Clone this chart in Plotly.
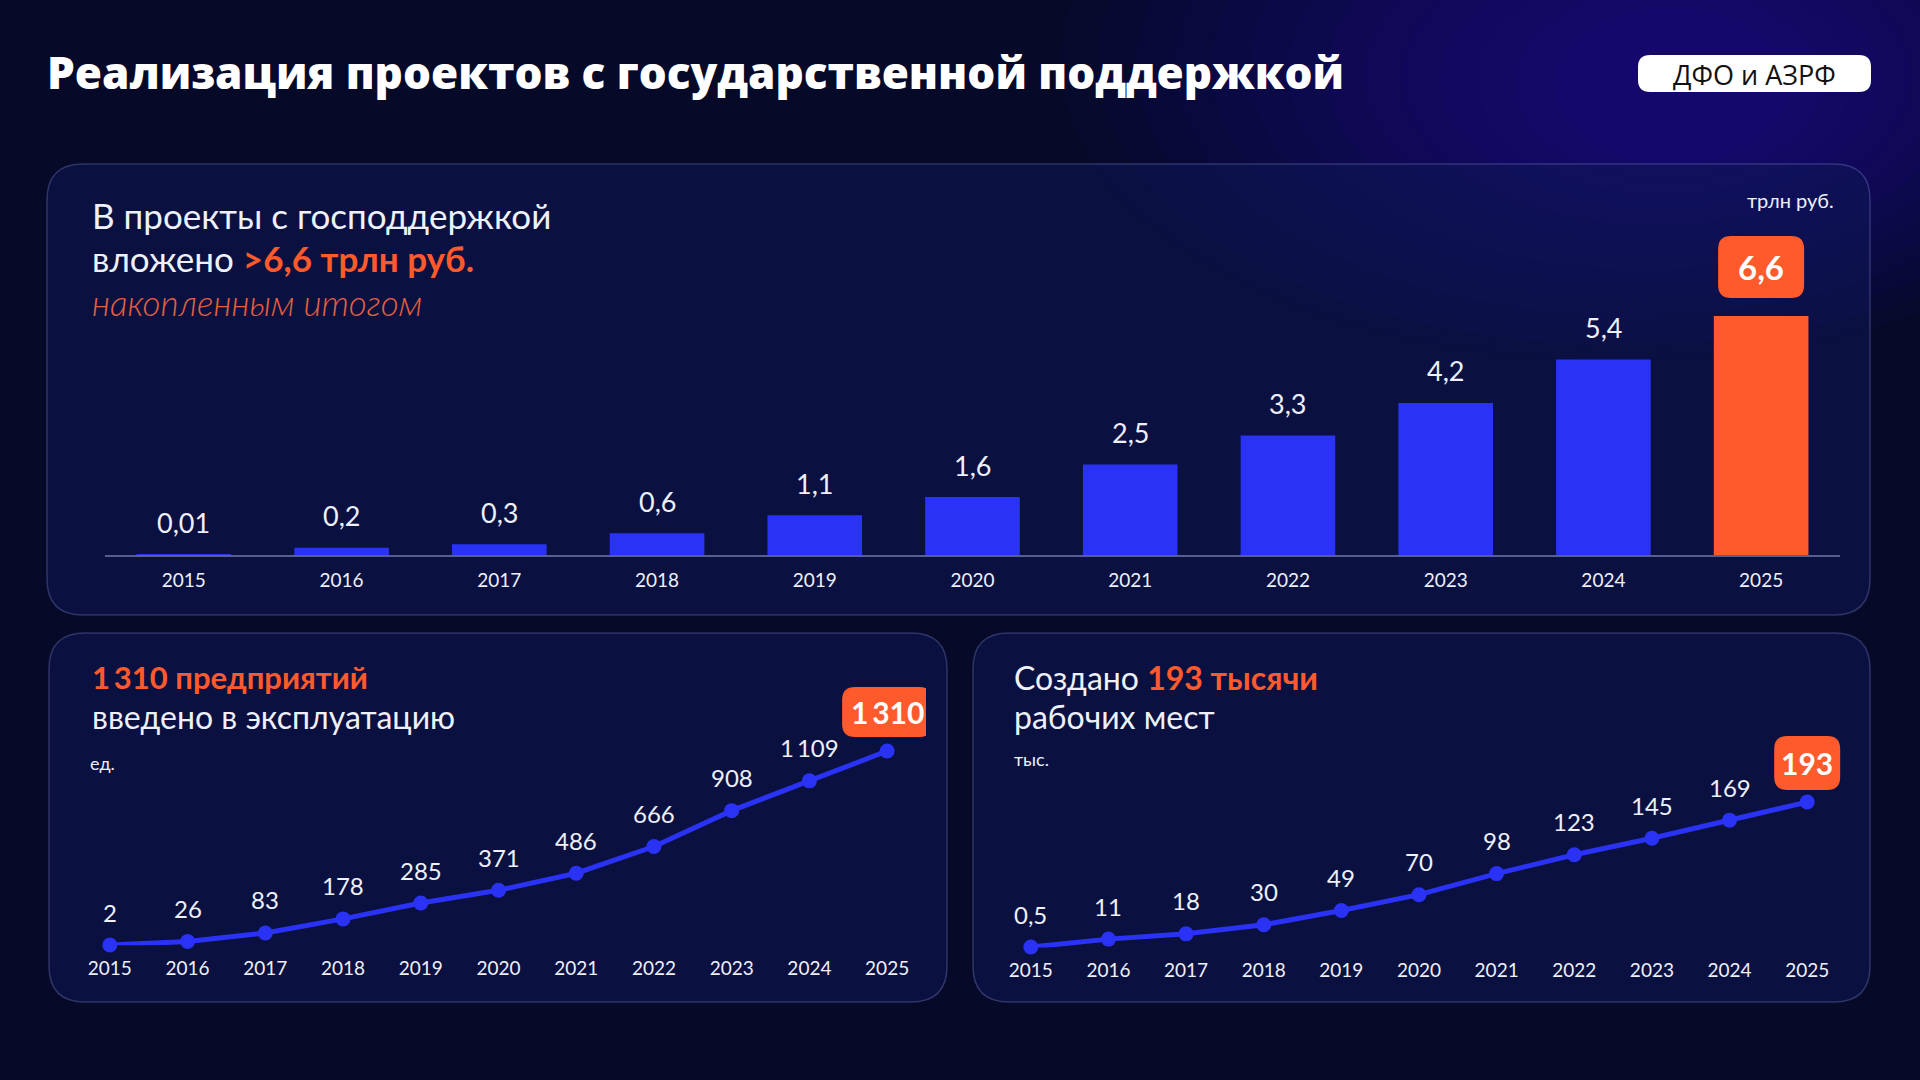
import plotly.graph_objects as go

W, H = 1920, 1080

# --- data ---------------------------------------------------------------
years = list(range(2015, 2026))
invest = [0.01, 0.2, 0.3, 0.6, 1.1, 1.6, 2.5, 3.3, 4.2, 5.4, 6.6]      # трлн руб., накопленным итогом
plants = [2, 26, 83, 178, 285, 371, 486, 666, 908, 1109, 1310]        # ед.
jobs = [0.5, 11, 18, 30, 49, 70, 98, 123, 145, 169, 193]              # тыс.

BG = "#060927"
PANEL = "rgba(14,22,86,0.55)"
EDGE = "rgba(120,130,200,0.35)"
BLUE = "#2a33f5"
ORANGE = "#ff5a2c"
TXT = "#eef0fa"
FONT = "Lato"


def fmt(v):
    # 0.01 -> "0,01", 1310 -> "1 310"
    if float(v).is_integer():
        return f"{int(v):,}".replace(",", "\u2009")
    return f"{v}".replace(".", ",")


def px_x(v):
    return v / W


def px_y(v):
    return 1 - v / H


def rrect(x0, y0, x1, y1, r):
    """rounded rectangle in paper coords from pixel box (y down)"""
    X, Y = px_x, px_y
    return (f"M{X(x0 + r)},{Y(y0)} L{X(x1 - r)},{Y(y0)} Q{X(x1)},{Y(y0)} {X(x1)},{Y(y0 + r)} "
            f"L{X(x1)},{Y(y1 - r)} Q{X(x1)},{Y(y1)} {X(x1 - r)},{Y(y1)} "
            f"L{X(x0 + r)},{Y(y1)} Q{X(x0)},{Y(y1)} {X(x0)},{Y(y1 - r)} "
            f"L{X(x0)},{Y(y0 + r)} Q{X(x0)},{Y(y0)} {X(x0 + r)},{Y(y0)} Z")


def badge_path(w, h, r, dy):
    """rounded box in pixels relative to an anchor point (y up)"""
    x0, x1, y0, y1 = -w / 2, w / 2, dy - h / 2, dy + h / 2
    return (f"M{x0 + r},{y1} L{x1 - r},{y1} Q{x1},{y1} {x1},{y1 - r} L{x1},{y0 + r} "
            f"Q{x1},{y0} {x1 - r},{y0} L{x0 + r},{y0} Q{x0},{y0} {x0},{y0 + r} "
            f"L{x0},{y1 - r} Q{x0},{y1} {x0 + r},{y1} Z")


fig = go.Figure()

# --- traces -------------------------------------------------------------
fig.add_trace(go.Bar(x=years, y=invest, width=0.6,
                     marker=dict(color=[BLUE] * (len(years) - 1) + [ORANGE], line_width=0),
                     xaxis="x", yaxis="y", hoverinfo="x+y"))

for xa, ya, vals in (("x2", "y2", plants), ("x3", "y3", jobs)):
    fig.add_trace(go.Scatter(x=years, y=vals, mode="lines+markers",
                             line=dict(color=BLUE, width=5),
                             marker=dict(color=BLUE, size=15),
                             cliponaxis=False, xaxis=xa, yaxis=ya))

# --- axes (domains placed in pixels of the 1920x1080 page) ----------------
tickfont = dict(family=FONT, size=19, color=TXT)
common_x = dict(tickmode="array", tickvals=years, ticktext=[str(y) for y in years],
                tickfont=tickfont, showgrid=False, zeroline=False, ticks="",
                fixedrange=True)
common_y = dict(visible=False, showgrid=False, zeroline=False, fixedrange=True)

fig.update_layout(
    xaxis=dict(common_x, domain=[px_x(105), px_x(1840)], range=[2014.5, 2025.5],
               anchor="y", showline=True, linecolor="rgba(150,160,210,0.55)", linewidth=1.5,
               ticklabelstandoff=7),
    yaxis=dict(common_y, domain=[px_y(555), px_y(220)], range=[0, 335 / 36.2], anchor="x"),
    xaxis2=dict(common_x, domain=[px_x(71), px_x(926)], range=[2014.5, 2025.5],
                anchor="y2", showline=False, ticklabelstandoff=10),
    yaxis2=dict(common_y, domain=[px_y(945.3), px_y(670)], range=[0, 275.3 / 0.1483], anchor="x2"),
    xaxis3=dict(common_x, domain=[px_x(992), px_x(1846)], range=[2014.5, 2025.5],
                anchor="y3", showline=False, ticklabelstandoff=10),
    yaxis3=dict(common_y, domain=[px_y(947.4), px_y(720)], range=[0, 227.4 / 0.753], anchor="x3"),
)

shapes = []

# soft background glow, top right
for k in range(14):
    rx, ry = 560 - k * 34, 300 - k * 17
    cx, cy = 1620 + k * 4, 60 + k * 2
    shapes.append(dict(type="circle", xref="paper", yref="paper", layer="below",
                       x0=px_x(cx - rx), x1=px_x(cx + rx), y0=px_y(cy + ry), y1=px_y(cy - ry),
                       fillcolor="#3b24d8", opacity=0.036, line_width=0))

# panels
for box in [(47, 164, 1870, 615), (49, 633, 947, 1002), (973, 633, 1870, 1002)]:
    shapes.append(dict(type="path", xref="paper", yref="paper", layer="below",
                       path=rrect(*box, 36), fillcolor=PANEL,
                       line=dict(color=EDGE, width=1.5)))

# region pill
shapes.append(dict(type="path", xref="paper", yref="paper", path=rrect(1638, 55, 1871, 92, 12),
                   fillcolor="white", line_width=0))

# orange value badges on the last point of every chart
for xr, yr, yv, w, h, dy in (("x", "y", invest[-1], 86, 62, 49),
                             ("x2", "y2", plants[-1], 90, 50, 39),
                             ("x3", "y3", jobs[-1], 66, 54, 39)):
    shapes.append(dict(type="path", xref=xr, yref=yr, xsizemode="pixel", ysizemode="pixel",
                       xanchor=years[-1], yanchor=yv, path=badge_path(w, h, 13, dy),
                       fillcolor=ORANGE, line_width=0))

ann = []


def note(x, y, text, size, color=TXT, anchor="left", **kw):
    ann.append(dict(x=px_x(x), y=px_y(y), xref="paper", yref="paper", text=text,
                    showarrow=False, xanchor=anchor, yanchor="middle",
                    font=dict(family=kw.pop("family", FONT), size=size, color=color,
                              weight=kw.pop("weight", "normal"),
                              style=kw.pop("style", "normal")), **kw))


note(45, 72, "Реализация проектов с государственной поддержкой", 44, "white",
     family="Open Sans", weight=800)
note(1754, 74, "ДФО и АЗРФ", 27, "#111111", anchor="center", family="Open Sans")

note(90, 215, "В проекты с господдержкой", 35)
note(90, 258, f"вложено <span style='color:{ORANGE}'><b>&gt;{fmt(invest[-1])} трлн руб.</b></span>", 35)
note(90, 302, "накопленным итогом", 35, "#e4603f", style="italic", weight=300)
note(1836, 200, "трлн руб.", 20, anchor="right")

note(90, 677, f"<b>{fmt(plants[-1])} предприятий</b>", 31, ORANGE)
note(90, 716, "введено в эксплуатацию", 32)
note(88, 763, "ед.", 18)

note(1012, 677, f"Создано <span style='color:{ORANGE}'><b>{jobs[-1]} тысячи</b></span>", 32)
note(1012, 716, "рабочих мест", 32)
note(1012, 759, "тыс.", 18)

# value labels
for xr, yr, vals, shift, size in (("x", "y", invest, 32, 27),
                                  ("x2", "y2", plants, 33, 24),
                                  ("x3", "y3", jobs, 33, 24)):
    for i, (yr_, v) in enumerate(zip(years, vals)):
        last = i == len(vals) - 1
        if last:
            dy = {"x": 49, "x2": 39, "x3": 39}[xr]
            ann.append(dict(x=yr_, y=v, xref=xr, yref=yr, text=f"<b>{fmt(v)}</b>",
                            showarrow=False, yanchor="middle", yshift=dy,
                            font=dict(family=FONT, size=size + 6, color="white")))
        else:
            ann.append(dict(x=yr_, y=v, xref=xr, yref=yr, text=fmt(v),
                            showarrow=False, yanchor="middle", yshift=shift,
                            font=dict(family=FONT, size=size, color=TXT)))

fig.update_layout(width=W, height=H, margin=dict(l=0, r=0, t=0, b=0),
                  paper_bgcolor=BG, plot_bgcolor="rgba(0,0,0,0)", showlegend=False,
                  shapes=shapes, annotations=ann, bargap=0.4)

fig.write_html("out.html", config={"displayModeBar": False},
               post_script="document.body.style.margin='0';")
